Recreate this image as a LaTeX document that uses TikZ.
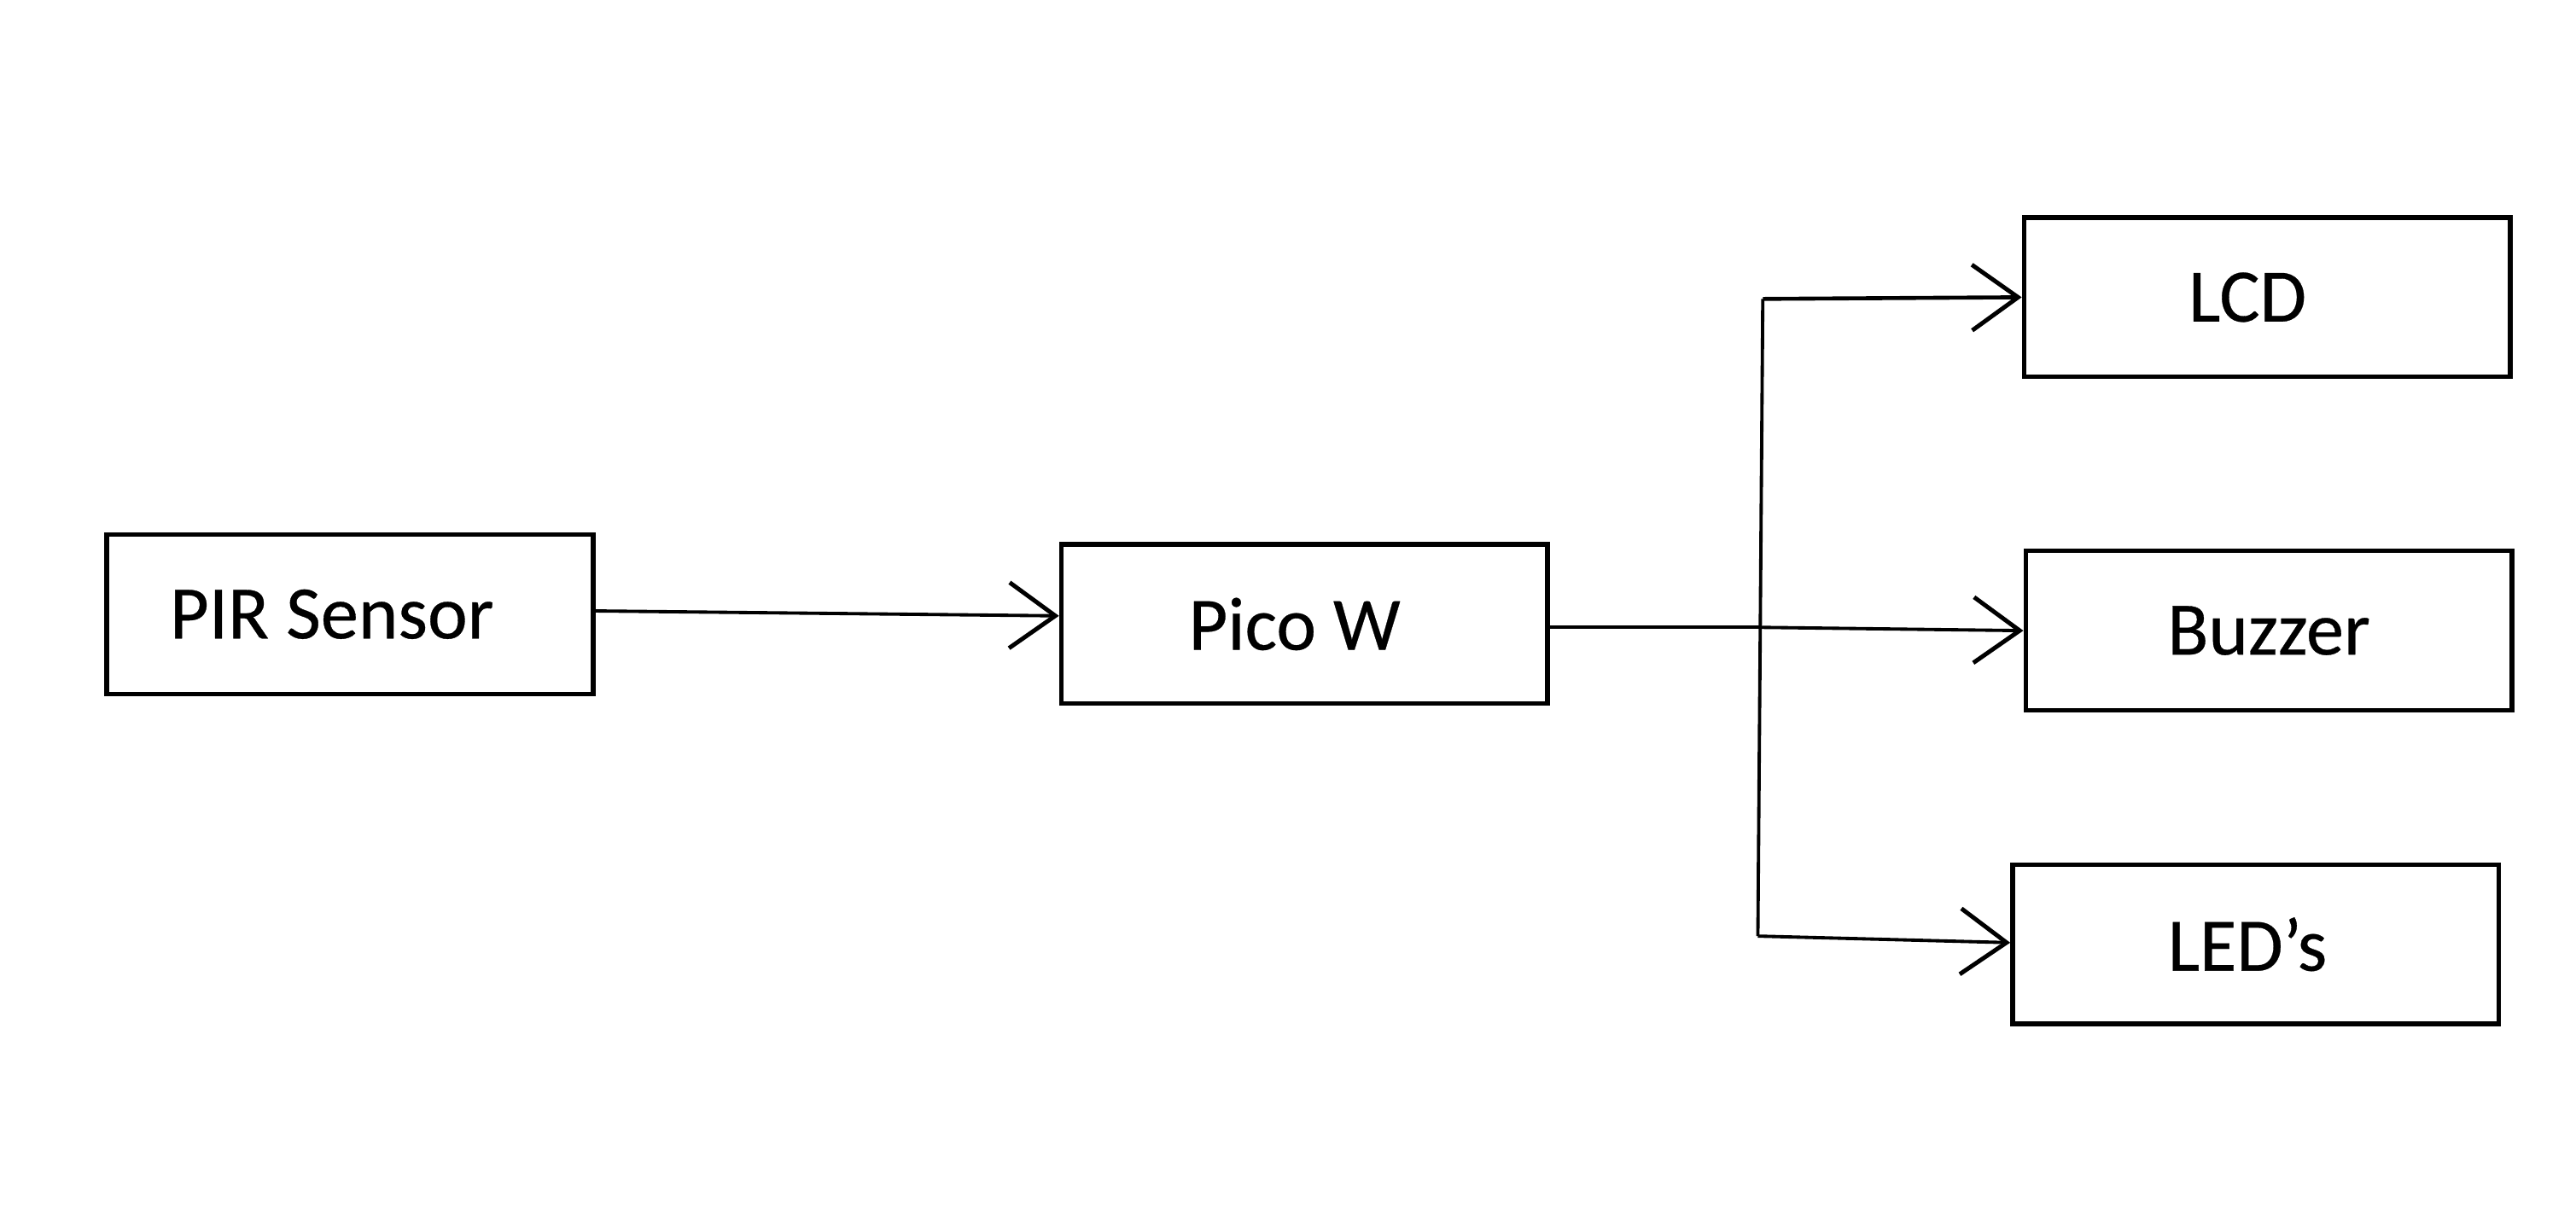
\documentclass[tikz,border=0pt]{standalone}
\usepackage{fontspec}
\setmainfont{Carlito}
\newfontfamily\lblfont[FakeBold=0.35]{Carlito}
\usetikzlibrary{arrows.meta}
\begin{document}
\begin{tikzpicture}[x=0.5pt,y=-0.5pt,
  blk/.style={draw,line width=1.4pt,minimum width=148pt,minimum height=48.5pt,inner sep=0pt,font=\lblfont\fontsize{23pt}{27pt}\selectfont},
  conn/.style={line width=1pt},
  arr/.style={conn,-{Straight Barb[length=14pt,width=20pt,line width=1.3pt]}}]
\fill[white] (0,0) rectangle (1568,736);
\useasboundingbox (0,0) rectangle (1568,736);
\node[blk] (pir) at (213,374) {PIR Sensor\kern11pt};
\node[blk] (pico) at (794,380) {Pico W\kern6pt};
\node[blk] (lcd) at (1380,181) {LCD\kern12pt};
\node[blk] (buz) at (1381,384) {Buzzer};
\node[blk] (led) at (1373,575) {LED’s\kern5pt};
\coordinate (jtop) at (1073,182);
\coordinate (jmid) at (1072,382);
\coordinate (jbot) at (1070,570);
\draw[arr] ([yshift=1pt]pir.east) -- ([yshift=2.5pt]pico.west);
\draw[conn] ([yshift=-1pt]pico.east) -- (jmid);
\draw[arr] (jmid) -- (buz.west);
\draw[conn] (jtop) -- (jbot);
\draw[arr,line width=1.2pt] (jtop) -- (lcd.west);
\draw[arr] (jbot) -- ([yshift=0.5pt]led.west);
\end{tikzpicture}
\end{document}
